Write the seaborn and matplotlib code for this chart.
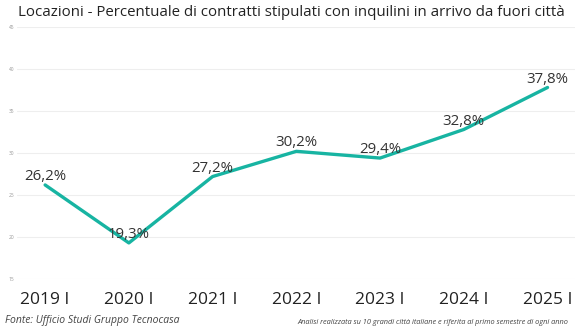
import matplotlib
matplotlib.use("Agg")
import matplotlib.pyplot as plt
import seaborn as sns
import pandas as pd

periods = ["2019 I", "2020 I", "2021 I", "2022 I", "2023 I", "2024 I", "2025 I"]
share = [26.2, 19.3, 27.2, 30.2, 29.4, 32.8, 37.8]
y_ticks = [15, 20, 25, 30, 35, 40, 45]

df = pd.DataFrame({"periodo": range(len(periods)), "quota": share})

sns.set_theme(style="white")
plt.rcParams["font.family"] = ["Open Sans", "DejaVu Sans"]

fig = plt.figure(figsize=(5.83, 3.33), dpi=100)
ax = fig.add_axes([0.030, 0.162, 0.956, 0.757])

line_color = "#17B4A2"
sns.lineplot(data=df, x="periodo", y="quota", ax=ax, color=line_color,
             linewidth=2.4, solid_joinstyle="round", solid_capstyle="round")

for i, v in enumerate(share):
    ax.annotate(f"{v:.1f}%".replace(".", ","), xy=(i, v), xytext=(0, 3.5),
                textcoords="offset points", ha="center", va="baseline",
                fontsize=10.8, color="#333333")

ax.set_xlim(-0.33, 6.326)
ax.set_ylim(15, 45)
ax.set_yticks(y_ticks)
ax.set_yticklabels([str(t) for t in y_ticks], fontsize=3.5, color="#999999")
ax.tick_params(axis="y", length=0, pad=2)
ax.set_xticks(range(len(periods)))
ax.set_xticklabels(periods, fontsize=12.5, color="#222222")
ax.tick_params(axis="x", length=0, pad=9)
ax.grid(axis="y", color="#eeeeee", linewidth=0.8)
ax.set_axisbelow(True)
for s in ax.spines.values():
    s.set_visible(False)
ax.set_xlabel("")
ax.set_ylabel("")

fig.text(0.5, 0.962, "Locazioni - Percentuale di contratti stipulati con inquilini in arrivo da fuori città",
         ha="center", va="center", fontsize=10.8, color="#222222")
fig.text(0.008, 0.038, "Fonte: Ufficio Studi Gruppo Tecnocasa", ha="left", va="center",
         fontsize=7.5, style="italic", color="#444444")
fig.text(0.975, 0.033, "Analisi realizzata su 10 grandi città italiane e riferita al primo semestre di ogni anno",
         ha="right", va="center", fontsize=5.3, style="italic", color="#444444")

fig.savefig("out.png", dpi=100)
